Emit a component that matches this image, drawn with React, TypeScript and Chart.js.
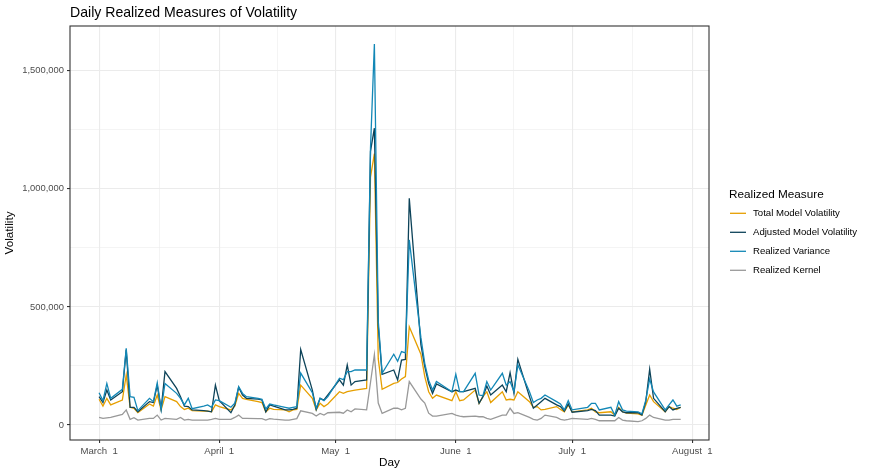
import React, { useEffect, useRef } from 'react';
import { Chart, registerables } from 'chart.js';

Chart.register(...registerables);

// Trading days, counted as days since March 1
const days = [
  0, 1, 2, 3, 6, 7, 8, 9, 10, 13, 14, 15, 16, 17, 20, 21, 22, 23, 24, 27, 28, 29, 30, 31,
  34, 35, 36, 37, 38, 41, 42, 43, 44, 45, 48, 49, 50, 51, 52, 55, 56, 57, 58, 59,
  62, 63, 64, 65, 66, 69, 70, 71, 72, 73, 76, 77, 78, 79, 80, 83, 84, 85, 86, 87,
  91, 92, 93, 94, 97, 98, 99, 100, 101, 104, 105, 106, 107, 108, 111, 112, 113, 114, 115,
  118, 119, 120, 121, 122, 126, 127, 128, 129, 132, 133, 134, 135, 136,
  139, 140, 141, 142, 143, 146, 147, 148, 149, 150,
];

const totalModelVolatility = [
  109000, 80000, 113000, 85000, 106000, 212000, 75000, 71000, 52000, 89000, 80000, 127000, 64000, 120000,
  99000, 78000, 66000, 71000, 61000, 59000, 59000, 56000, 85000, 78000,
  64000, 80000, 134000, 113000, 109000, 99000, 95000, 56000, 71000, 66000, 64000, 56000, 64000, 66000, 169000,
  113000, 64000, 92000, 78000, 89000,
  141000, 134000, 141000, 145000, 148000, 155000, 1050000, 1150000, 280000, 151000, 176000, 180000, 195000, 205000, 416000,
  300000, 205000, 141000, 113000, 127000,
  103000, 141000, 103000, 106000, 148000, 92000, 120000, 141000, 95000, 141000, 106000, 109000, 106000, 141000,
  99000, 75000, 78000, 64000, 66000,
  78000, 66000, 56000, 85000, 56000, 64000, 71000, 56000, 52000, 56000, 42000, 75000, 56000, 50000,
  47000, 42000, 85000, 127000, 99000, 56000, 78000, 71000, 66000, 75000,
];

const adjustedModelVolatility = [
  120000, 95000, 148000, 106000, 141000, 318000, 75000, 75000, 56000, 99000, 95000, 169000, 68000, 226000,
  155000, 120000, 80000, 78000, 64000, 61000, 59000, 56000, 169000, 103000,
  52000, 85000, 160000, 127000, 113000, 110000, 106000, 56000, 85000, 80000, 64000, 64000, 66000, 71000, 320000,
  148000, 66000, 113000, 106000, 127000,
  191000, 169000, 254000, 169000, 184000, 191000, 1160000, 1257000, 420000, 215000, 233000, 191000, 275000, 278000, 960000,
  340000, 247000, 177000, 134000, 174000,
  141000, 148000, 141000, 141000, 155000, 92000, 120000, 165000, 127000, 169000, 141000, 222000, 134000, 278000,
  120000, 71000, 85000, 99000, 113000,
  85000, 78000, 59000, 89000, 54000, 61000, 66000, 61000, 42000, 42000, 38000, 71000, 56000, 52000,
  52000, 42000, 99000, 236000, 113000, 56000, 78000, 64000, 70000, 75000,
];

const realizedVariance = [
  137000, 103000, 176000, 113000, 151000, 325000, 120000, 117000, 61000, 113000, 99000, 179000, 66000, 176000,
  134000, 113000, 85000, 113000, 69000, 80000, 85000, 75000, 106000, 103000,
  75000, 92000, 162000, 134000, 120000, 113000, 109000, 68000, 89000, 85000, 75000, 71000, 75000, 78000, 220000,
  137000, 71000, 113000, 103000, 120000,
  198000, 192000, 226000, 226000, 233000, 233000, 1172000, 1614000, 440000, 219000, 300000, 270000, 311000, 306000, 784000,
  370000, 260000, 190000, 148000, 184000,
  141000, 215000, 141000, 141000, 219000, 127000, 124000, 184000, 148000, 219000, 169000, 184000, 141000, 255000,
  141000, 95000, 106000, 113000, 127000,
  99000, 89000, 64000, 103000, 64000, 75000, 92000, 92000, 64000, 75000, 42000, 99000, 64000, 59000,
  56000, 47000, 105000, 195000, 140000, 64000, 85000, 106000, 80000, 85000,
];

const realizedKernel = [
  32000, 28000, 30000, 32000, 45000, 64000, 24000, 31000, 21000, 28000, 28000, 42000, 21000, 28000,
  24000, 32000, 21000, 24000, 21000, 21000, 21000, 24000, 28000, 24000,
  24000, 32000, 42000, 28000, 28000, 27000, 27000, 21000, 27000, 25000, 21000, 21000, 24000, 27000, 60000,
  49000, 38000, 49000, 42000, 52000,
  54000, 50000, 64000, 56000, 68000, 64000, 180000, 298000, 93000, 49000, 71000, 71000, 64000, 71000, 184000,
  110000, 93000, 50000, 38000, 38000,
  49000, 42000, 38000, 35000, 38000, 35000, 35000, 28000, 24000, 42000, 42000, 71000, 49000, 52000,
  32000, 24000, 21000, 28000, 42000,
  32000, 24000, 21000, 24000, 28000, 24000, 28000, 24000, 18000, 18000, 18000, 32000, 21000, 18000,
  14000, 18000, 28000, 42000, 32000, 21000, 21000, 24000, 24000, 24000,
];

const seriesNames = ['Total Model Volatility', 'Adjusted Model Volatility', 'Realized Variance', 'Realized Kernel'];
const seriesColors = ['#E69F00', '#0D4359', '#1287B6', '#999999'];

const xMajorDays = [0, 31, 61, 92, 122, 153];
const xMajorLabels = ['March  1', 'April  1', 'May  1', 'June  1', 'July  1', 'August  1'];
const xMinorDays = [15.5, 46, 76.5, 107, 137.5];
const yMajorTicks = [0, 500000, 1000000, 1500000];
const yMinorTicks = [250000, 750000, 1250000];

const chartTitle = 'Daily Realized Measures of Volatility';
const xTitle = 'Day';
const yTitle = 'Volatility';
const legendTitle = 'Realized Measure';

const FONT = "'Liberation Sans', Arial, Helvetica, sans-serif";

const decorPlugin = {
  id: 'decor',
  beforeDraw(chart: any) {
    const { ctx, width, height } = chart;
    ctx.save();
    ctx.fillStyle = '#ffffff';
    ctx.fillRect(0, 0, width, height);
    ctx.restore();
  },
  afterDatasetsDraw(chart: any) {
    const { ctx, chartArea: a } = chart;
    ctx.save();
    ctx.strokeStyle = '#333333';
    ctx.lineWidth = 1.1;
    ctx.strokeRect(a.left, a.top, a.right - a.left, a.bottom - a.top);
    ctx.restore();
  },
  afterDraw(chart: any) {
    const { ctx, chartArea: a } = chart;
    ctx.save();
    ctx.fillStyle = '#000000';
    ctx.font = `14.1px ${FONT}`;
    ctx.textAlign = 'left';
    ctx.textBaseline = 'alphabetic';
    ctx.fillText(chartTitle, a.left, 17);
    ctx.font = `11.75px ${FONT}`;
    ctx.textAlign = 'center';
    ctx.textBaseline = 'middle';
    ctx.fillText(xTitle, (a.left + a.right) / 2, 463);
    ctx.save();
    ctx.translate(10, (a.top + a.bottom) / 2);
    ctx.rotate(-Math.PI / 2);
    ctx.fillText(yTitle, 0, 0);
    ctx.restore();
    ctx.textAlign = 'left';
    ctx.textBaseline = 'alphabetic';
    ctx.font = `11.75px ${FONT}`;
    ctx.fillText(legendTitle, 729, 198);
    ctx.font = `9.6px ${FONT}`;
    ctx.textBaseline = 'middle';
    seriesNames.forEach((name, i) => {
      const y = 213.3 + i * 19;
      ctx.strokeStyle = seriesColors[i];
      ctx.lineWidth = 1.3;
      ctx.beginPath();
      ctx.moveTo(730, y);
      ctx.lineTo(746, y);
      ctx.stroke();
      ctx.fillStyle = '#000000';
      ctx.fillText(name, 753, y);
    });
    ctx.restore();
  },
};

export default function App() {
  const canvasRef = useRef<HTMLCanvasElement | null>(null);

  useEffect(() => {
    if (!canvasRef.current) return;
    const seriesValues = [totalModelVolatility, adjustedModelVolatility, realizedVariance, realizedKernel];
    const orders = [4, 3, 2, 1];
    const isXMajor = (v: any) => xMajorDays.indexOf(Number(v)) >= 0;
    const isYMajor = (v: any) => yMajorTicks.indexOf(Number(v)) >= 0;

    const chart = new Chart(canvasRef.current, {
      type: 'line',
      data: {
        datasets: seriesNames.map((name, i) => ({
          label: name,
          data: days.map((d, j) => ({ x: d, y: seriesValues[i][j] })),
          borderColor: seriesColors[i],
          backgroundColor: seriesColors[i],
          borderWidth: 1.3,
          pointRadius: 0,
          tension: 0,
          fill: false,
          order: orders[i],
        })),
      },
      options: {
        responsive: false,
        animation: false,
        devicePixelRatio: 1,
        layout: { padding: { left: 0, right: 163, top: 26, bottom: 0 } },
        plugins: {
          legend: { display: false },
          title: { display: false },
          tooltip: { enabled: false },
        },
        scales: {
          x: {
            type: 'linear',
            min: -7.5,
            max: 157.3,
            afterBuildTicks: (s: any) => {
              s.ticks = [...xMajorDays, ...xMinorDays].sort((p, q) => p - q).map((v) => ({ value: v }));
            },
            afterFit: (s: any) => {
              s.height = 36;
            },
            ticks: {
              autoSkip: false,
              maxRotation: 0,
              minRotation: 0,
              padding: 3,
              color: '#4D4D4D',
              font: { size: 9.6, family: FONT },
              callback: (v: any) => {
                const i = xMajorDays.indexOf(Number(v));
                return i >= 0 ? xMajorLabels[i] : '';
              },
            },
            grid: {
              color: '#EBEBEB',
              lineWidth: (c: any) => (isXMajor(c.tick && c.tick.value) ? 1.1 : 0.55),
              tickLength: 3,
              tickWidth: 1.1,
              tickColor: (c: any) => (isXMajor(c.tick && c.tick.value) ? '#333333' : 'rgba(0,0,0,0)'),
            },
            border: { display: false },
          },
          y: {
            type: 'linear',
            min: -63500,
            max: 1690000,
            afterBuildTicks: (s: any) => {
              s.ticks = [...yMajorTicks, ...yMinorTicks].sort((p, q) => p - q).map((v) => ({ value: v }));
            },
            afterFit: (s: any) => {
              s.width = 70;
            },
            ticks: {
              padding: 3,
              color: '#4D4D4D',
              font: { size: 9.4, family: FONT },
              callback: (v: any) => (isYMajor(v) ? Number(v).toLocaleString('en-US') : ''),
            },
            grid: {
              color: '#EBEBEB',
              lineWidth: (c: any) => (isYMajor(c.tick && c.tick.value) ? 1.1 : 0.55),
              tickLength: 3,
              tickWidth: 1.1,
              tickColor: (c: any) => (isYMajor(c.tick && c.tick.value) ? '#333333' : 'rgba(0,0,0,0)'),
            },
            border: { display: false },
          },
        },
      },
      plugins: [decorPlugin],
    } as any);

    return () => {
      chart.destroy();
    };
  }, []);

  return (
    <div style={{ position: 'fixed', left: 0, top: 0, width: 872, height: 476 }}>
      <canvas ref={canvasRef} width={872} height={476} style={{ display: 'block' }} />
    </div>
  );
}
